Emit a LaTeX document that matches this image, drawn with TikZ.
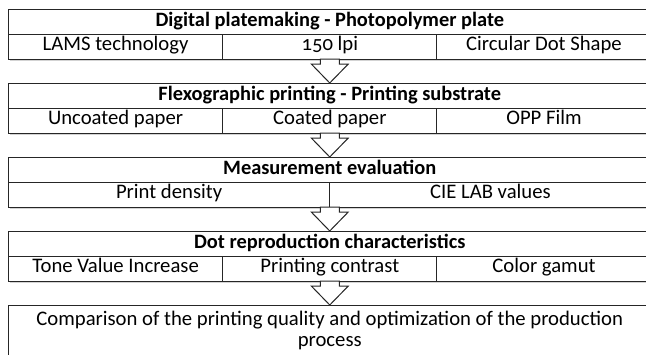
\documentclass[tikz,border=0pt]{standalone}
\usepackage{fontspec}
\setmainfont[Numbers=OldStyle]{Carlito}
\usepackage{tikz}
\usetikzlibrary{calc, positioning, shadows}
\newcommand{\boxfont}{\fontsize{20.7}{21}\selectfont}
\tikzstyle{box}   = [rectangle, draw=black!85, line width=1pt, fill=white, outer sep=0pt, inner sep=0pt, minimum height=25pt, text centered, font=\boxfont, drop shadow={shadow xshift=1.2pt, shadow yshift=-1.5pt, opacity=.35}]
\tikzstyle{head}  = [box, minimum width=642.5pt, font=\fontsize{20.4}{21}\selectfont\bfseries, text height=13pt, text depth=3pt]
\tikzstyle{third} = [box, minimum width=214.2pt, text height=13pt, text depth=5pt]
\tikzstyle{half}  = [box, minimum width=321.25pt, text height=13pt, text depth=5pt]
\tikzstyle{down}  = [draw=black!85, line width=1pt, fill=white,
  to path={let \p1=(\tikztostart), \p2=(\tikztotarget) in
    (\x1-9.5pt,\y1) -- (\x1-9.5pt,\y2+19pt) -- (\x1-18.5pt,\y2+19pt) -- (\x2,\y2)
    -- (\x1+18.5pt,\y2+19pt) -- (\x1+9.5pt,\y2+19pt) -- (\x1+9.5pt,\y1) -- cycle}]

\begin{document}
\begin{tikzpicture}[x=1pt, y=-1pt]
    \useasboundingbox (0,0) rectangle (646,354);
    \clip (0,0) rectangle (646,354);

    % platemaking
    \node (plate) [head, anchor=north west] at (8.5,9) {Digital platemaking - Photopolymer plate};
    \node (lams)  [third, below right=0pt and 0pt of plate.south west] {LAMS technology};
    \node (lpi)   [third, right=0pt of lams]  {150 lpi};
    \node (dot)   [third, right=0pt of lpi]   {Circular Dot Shape};

    % printing
    \node (print)   [head, anchor=north west] at (8.5,83) {Flexographic printing - Printing substrate};
    \node (uncoat)  [third, below right=0pt and 0pt of print.south west] {Uncoated paper};
    \node (coat)    [third, right=0pt of uncoat] {Coated paper};
    \node (opp)     [third, right=0pt of coat]   {OPP Film};

    % measurement
    \node (meas)    [head, anchor=north west] at (8.5,157) {Measurement evaluation};
    \node (dens)    [half, below right=0pt and 0pt of meas.south west] {Print density};
    \node (lab)     [half, right=0pt of dens] {CIE LAB values};

    % dot reproduction
    \node (repro)   [head, anchor=north west] at (8.5,231) {Dot reproduction characteristics};
    \node (tvi)     [third, below right=0pt and 0pt of repro.south west] {Tone Value Increase};
    \node (contr)   [third, right=0pt of tvi]   {Printing contrast};
    \node (gamut)   [third, right=0pt of contr] {Color gamut};

    % comparison
    \node (comp) [box, anchor=north west, minimum width=642.5pt, align=center,
                  inner ysep=6pt, text depth=30pt] at (8.5,305)
                 {Comparison of the printing quality and optimization of the production\\process};

    \draw [down] (lpi.south)   to (print.north);
    \draw [down] (coat.south)  to (meas.north);
    \draw [down] (meas.south |- dens.south) to (repro.north);
    \draw [down] (contr.south) to (comp.north);
\end{tikzpicture}
\end{document}
